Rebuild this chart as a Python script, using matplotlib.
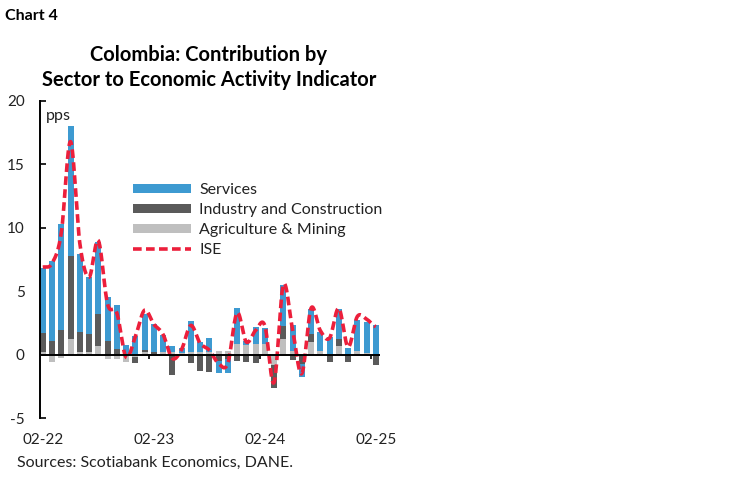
import numpy as np
import matplotlib.pyplot as plt

plt.rcParams['font.family'] = ['Lato', 'DejaVu Sans']

# monthly data, Feb-22 .. Feb-25 (contributions in pps)
months = ['02-22', '03-22', '04-22', '05-22', '06-22', '07-22', '08-22', '09-22', '10-22',
          '11-22', '12-22', '01-23', '02-23', '03-23', '04-23', '05-23', '06-23', '07-23',
          '08-23', '09-23', '10-23', '11-23', '12-23', '01-24', '02-24', '03-24', '04-24',
          '05-24', '06-24', '07-24', '08-24', '09-24', '10-24', '11-24', '12-24', '01-25',
          '02-25']
agri = [0.22, -0.56, -0.25, 1.22, 0.22, 0.17, 0.7, -0.35, -0.35, -0.6, -0.2, 0.22, 0.08,
        0.22, 0.22, 0.15, 0.22, 0.2, 0.2, 0.3, 0.3, 0.8, 0.78, 0.8, 0.85, -0.8, 1.22,
        0.3, 0.0, 1.0, 0.3, 0.0, 0.7, 0.0, 0.3, 0.1, 0.0]
industry = [1.5, 1.06, 1.93, 6.58, 1.58, 1.45, 2.5, 1.1, 0.43, 0.0, -0.5, 0.18, 0.14,
            0.0, -1.6, -0.05, -0.65, -1.3, -1.4, -0.5, -0.35, -0.5, -0.6, -0.67, 0.0, -1.8, 1.0,
            -0.4, -0.75, 0.65, 0.0, -0.62, 0.5, -0.62, 0.0, 0.0, -0.8]
services = [5.08, 6.34, 8.37, 10.2, 6.1, 4.48, 5.7, 3.45, 3.47, 0.72, 1.45, 2.8, 2.2,
            1.33, 0.45, 0.4, 2.4, 0.8, 1.1, -0.95, -1.1, 2.85, 0.3, 1.4, 1.25, 0.0, 3.3,
            2.0, -1.0, 1.95, 1.5, 1.35, 2.4, 0.5, 2.4, 2.5, 2.3]
ise = [6.9, 7.2, 9.6, 16.8, 8.8, 6.1, 9.0, 4.0, 3.3, -0.2, 1.4, 3.5, 2.4,
       1.6, -0.3, 0.4, 2.3, 0.9, 0.35, -0.7, -0.7, 3.3, 1.0, 1.9, 2.3, -2.2, 5.5,
       2.0, -1.5, 3.65, 1.9, 1.3, 3.65, 0.6, 3.0, 2.8, 2.2]

x = np.arange(len(months))
series = [('Agriculture & Mining', np.array(agri), '#bfbfbf'),
          ('Industry and Construction', np.array(industry), '#5a5a5a'),
          ('Services', np.array(services), '#3d9ad1')]


def smooth(xs, ys, n=24):
    # catmull-rom curve through the points (like excel's smoothed line)
    p = np.concatenate([[ys[0]], ys, [ys[-1]]])
    xo, yo = [], []
    t = np.linspace(0, 1, n, endpoint=False)
    for i in range(len(ys) - 1):
        p0, p1, p2, p3 = p[i], p[i + 1], p[i + 2], p[i + 3]
        y = 0.5 * (2 * p1 + (-p0 + p2) * t + (2 * p0 - 5 * p1 + 4 * p2 - p3) * t ** 2
                   + (-p0 + 3 * p1 - 3 * p2 + p3) * t ** 3)
        xo.extend(xs[i] + t)
        yo.extend(y)
    xo.append(xs[-1])
    yo.append(ys[-1])
    return np.array(xo), np.array(yo)


fig = plt.figure(figsize=(7.48, 4.83), dpi=100)
ax = fig.add_axes([40 / 748, 65 / 483, 340.4 / 748, 317 / 483])

pos_base = np.zeros(len(x))
neg_base = np.zeros(len(x))
handles = {}
for name, vals, col in series:
    base = np.where(vals >= 0, pos_base, neg_base)
    b = ax.bar(x, vals, width=0.65, bottom=base, color=col, label=name, zorder=2)
    handles[name] = b
    pos_base = pos_base + np.clip(vals, 0, None)
    neg_base = neg_base + np.clip(vals, None, 0)

sx, sy = smooth(x.astype(float), np.array(ise))
ln, = ax.plot(sx, sy, color='#ec1f3b', lw=2.6, dashes=(2.4, 1.2), zorder=3, label='ISE')

ax.axhline(0, color='black', lw=1.4, zorder=4)
ax.vlines([11.5, 23.5, 35.5], -0.35, 0, color='black', lw=1.2, zorder=4)

ax.set_xlim(-0.3, 36.5)
ax.set_ylim(-5, 20)
ax.set_yticks([-5, 0, 5, 10, 15, 20])
ax.set_yticklabels(['-5', '0', '5', '10', '15', '20'])
ax.set_xticks([0, 12, 24, 36])
ax.set_xticklabels([months[i] for i in [0, 12, 24, 36]])
ax.tick_params(axis='x', length=0, pad=11, labelsize=11, colors='#222222')
ax.tick_params(axis='y', direction='in', length=4, width=1.2, pad=11, labelsize=11,
               labelcolor='#222222')
for s in ['top', 'right', 'bottom']:
    ax.spines[s].set_visible(False)
ax.spines['left'].set_linewidth(1.4)

ax.text(0.35, 18.8, 'pps', fontsize=11.5, color='#222222', va='center')

leg = ax.legend([handles['Services'], handles['Industry and Construction'],
                 handles['Agriculture & Mining'], ln],
                ['Services', 'Industry and Construction', 'Agriculture & Mining', 'ISE'],
                loc='upper left', bbox_to_anchor=(133 / 748, 1 - 183 / 483),
                bbox_transform=fig.transFigure, frameon=False, fontsize=11.5,
                handlelength=3.65, handleheight=0.5, handletextpad=0.5,
                labelspacing=0.38, borderpad=0, borderaxespad=0)
for t in leg.get_texts():
    t.set_color('#222222')

fig.text(5 / 748, 1 - 16 / 483, 'Chart 4', fontsize=11.5, fontweight='bold', va='center')
fig.text(209 / 748, 1 - 55 / 483, 'Colombia: Contribution by', fontsize=14.5,
         fontweight='bold', ha='center', va='center')
fig.text(209 / 748, 1 - 80 / 483, 'Sector to Economic Activity Indicator', fontsize=14.5,
         fontweight='bold', ha='center', va='center')
fig.text(17 / 748, 1 - 463 / 483, 'Sources: Scotiabank Economics, DANE.', fontsize=11.5,
         color='#222222', va='center')

fig.savefig('out.png', dpi=100)
